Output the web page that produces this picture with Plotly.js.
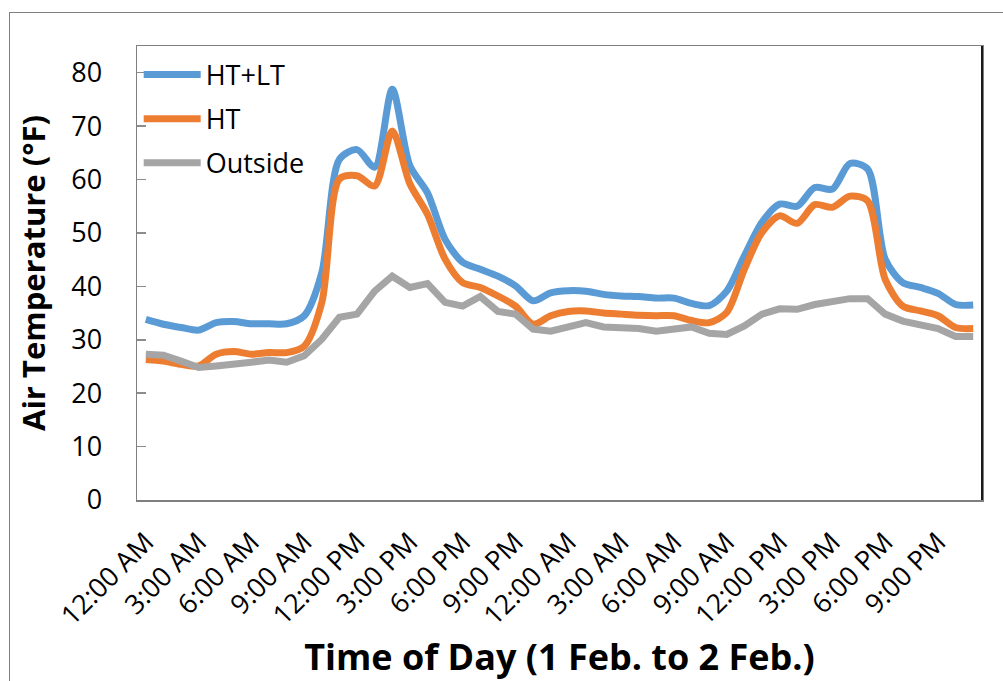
<!DOCTYPE html>
<html>
<head>
<meta charset="utf-8">
<script src="https://cdn.plot.ly/plotly-3.0.1.min.js"></script>
<style>
  html, body { margin: 0; padding: 0; background: #ffffff; overflow: hidden; }
  #chart { width: 1003px; height: 681px; position: absolute; left: 0; top: 0; }
  #frame { position: absolute; left: 9px; top: 12px; width: 1200px; height: 900px;
           border: 1.5px solid #7f7f7f; pointer-events: none; }
</style>
</head>
<body>
<div id="chart"></div>
<div id="frame"></div>
<script>
// Hourly readings, 12:00 AM 1 Feb to 11:00 PM 2 Feb (48 points)
const tickLabels = ["12:00 AM", "3:00 AM", "6:00 AM", "9:00 AM", "12:00 PM", "3:00 PM", "6:00 PM", "9:00 PM",
                    "12:00 AM", "3:00 AM", "6:00 AM", "9:00 AM", "12:00 PM", "3:00 PM", "6:00 PM", "9:00 PM"];
const tickHours = [0, 3, 6, 9, 12, 15, 18, 21, 24, 27, 30, 33, 36, 39, 42, 45];

const htlt = [33.8, 32.9, 32.3, 31.8, 33.2, 33.4, 33.0, 33.0,
              33.0, 34.5, 42.6, 63.8, 65.6, 62.3, 76.9, 62.6,
              57.5, 48.8, 44.5, 43.2, 41.9, 40.1, 37.3, 38.8,
              39.2, 39.1, 38.5, 38.2, 38.1, 37.8, 37.8, 36.8,
              36.4, 39.1, 45.7, 52.0, 55.4, 55.0, 58.5, 58.2,
              63.0, 62.0, 45.1, 40.7, 39.8, 38.7, 36.6, 36.5];

const ht =   [26.3, 26.0, 25.4, 25.1, 27.3, 27.8, 27.3, 27.6,
              27.6, 28.8, 37.0, 60.1, 60.7, 58.8, 69.1, 59.2,
              53.5, 45.1, 40.7, 39.8, 38.2, 36.3, 32.9, 34.5,
              35.3, 35.4, 35.0, 34.8, 34.6, 34.5, 34.5, 33.6,
              33.2, 35.1, 43.2, 50.1, 53.2, 51.8, 55.3, 54.8,
              56.9, 56.0, 41.3, 36.3, 35.4, 34.5, 32.3, 32.1];

const outside = [27.3, 27.1, 26.0, 24.8, 25.1, 25.6, 25.8, 26.2,
                 25.8, 27.0, 30.1, 34.2, 34.8, 39.1, 41.9, 39.8,
                 40.5, 37.0, 36.3, 38.1, 35.3, 34.8, 32.0, 31.6,
                 32.4, 33.2, 32.4, 32.4, 32.1, 31.6, 32.1, 32.4,
                 31.2, 31.0, 32.6, 34.8, 35.8, 35.7, 36.6, 37.1,
                 37.7, 37.7, 34.8, 33.5, 32.8, 32.1, 30.6, 30.6];

const hourIndex = htlt.map((_, i) => i);

const FONT = "'Open Sans', 'Noto Sans', sans-serif";

const traces = [
  { x: hourIndex, y: htlt, name: "HT+LT", type: "scatter", mode: "lines", legendgroup: "a",
    line: { color: "#5B9BD5", width: 7, shape: "spline", smoothing: 0.8 } },
  { x: hourIndex, y: ht, name: "HT", type: "scatter", mode: "lines", legendgroup: "b",
    line: { color: "#ED7D31", width: 7, shape: "spline", smoothing: 0.8 } },
  { x: hourIndex, y: outside, name: "Outside", type: "scatter", mode: "lines", legendgroup: "c",
    line: { color: "#A5A5A5", width: 7, shape: "linear" } }
];

const layout = {
  width: 1003, height: 681,
  margin: { l: 137, r: 21, t: 46, b: 180.5 },
  paper_bgcolor: "rgba(0,0,0,0)",
  plot_bgcolor: "#ffffff",
  showlegend: true,
  legend: {
    x: 0.002, y: 0.99, xanchor: "left", yanchor: "top",
    bgcolor: "rgba(0,0,0,0)",
    font: { family: FONT, size: 27, color: "#000000" },
    itemwidth: 57,
    traceorder: "grouped",
    tracegroupgap: 6
  },
  xaxis: {
    range: [-0.5, 47.5],
    tickmode: "array",
    tickvals: tickHours,
    ticktext: tickLabels,
    tickangle: -45,
    ticks: "",
    showgrid: false,
    zeroline: false,
    showline: true, mirror: true,
    linecolor: "#7f7f7f", linewidth: 1.5,
    tickfont: { family: FONT, size: 27, color: "#000000" },
    ticklabelstandoff: 14,
    title: { text: "Time of Day (1 Feb. to 2 Feb.)",
             font: { family: FONT, size: 36, color: "#000000", weight: "bold" },
             standoff: 14 }
  },
  yaxis: {
    range: [0, 85],
    tickmode: "array",
    tickvals: [0, 10, 20, 30, 40, 50, 60, 70, 80],
    ticks: "inside", ticklen: 9, tickcolor: "#8c8c8c", tickwidth: 1.5,
    showgrid: false,
    zeroline: false,
    showline: true, mirror: true,
    linecolor: "#7f7f7f", linewidth: 1.5,
    tickfont: { family: FONT, size: 27, color: "#000000" },
    ticklabelstandoff: 28,
    title: { text: "Air Temperature (°F)",
             font: { family: FONT, size: 31, color: "#000000", weight: "bold" },
             standoff: 16 }
  },
  shapes: [
    { type: "line", xref: "paper", yref: "paper", x0: 1, x1: 1, y0: 0, y1: 1,
      line: { color: "#1a1a1a", width: 2 } }
  ]
};

Plotly.newPlot("chart", traces, layout, { displayModeBar: false, staticPlot: true });
</script>
</body>
</html>
